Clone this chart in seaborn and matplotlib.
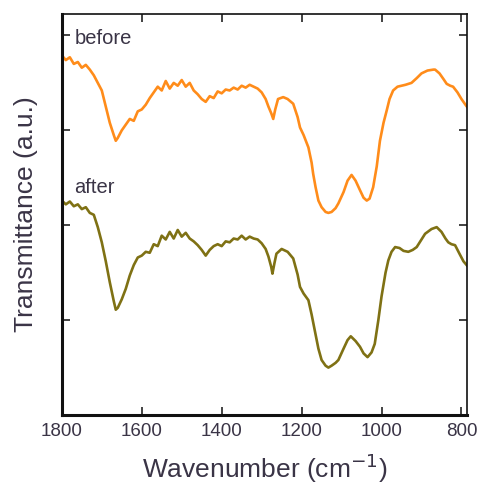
import matplotlib
matplotlib.use("Agg")
import matplotlib.pyplot as plt
import seaborn as sns
import pandas as pd

# FTIR spectra (arbitrary offset units)
wn_before = [1800, 1790, 1780, 1770, 1760, 1750, 1740, 1730, 1720, 1710, 1700, 1690, 1680, 1670, 1665,
             1660, 1650, 1640, 1630, 1620, 1610, 1600, 1590, 1580, 1570, 1560, 1550, 1540, 1530, 1520,
             1510, 1500, 1490, 1480, 1470, 1460, 1450, 1440, 1430, 1420, 1410, 1400, 1390, 1380, 1370,
             1360, 1350, 1340, 1330, 1320, 1310, 1300, 1290, 1283, 1276, 1271, 1266, 1259, 1246, 1235,
             1221, 1210, 1204, 1195, 1183, 1175, 1171, 1165, 1158, 1150, 1140, 1133, 1125, 1115, 1108,
             1095, 1085, 1075, 1065, 1054, 1045, 1037, 1030, 1021, 1012, 1004, 995, 987, 980, 971,
             960, 950, 940, 925, 912, 900, 885, 870, 866, 855, 845, 837, 828, 821, 810, 800, 790, 783]
t_before = [3.79, 3.74, 3.77, 3.70, 3.72, 3.66, 3.69, 3.64, 3.58, 3.50, 3.42, 3.25, 3.08, 2.95, 2.89,
            2.92, 3.00, 3.06, 3.12, 3.10, 3.20, 3.22, 3.27, 3.34, 3.40, 3.46, 3.42, 3.52, 3.44, 3.50,
            3.47, 3.53, 3.46, 3.50, 3.42, 3.38, 3.33, 3.30, 3.36, 3.34, 3.41, 3.39, 3.43, 3.42, 3.45,
            3.43, 3.47, 3.45, 3.48, 3.46, 3.44, 3.40, 3.33, 3.25, 3.18, 3.12, 3.22, 3.33, 3.35, 3.33,
            3.28, 3.14, 3.03, 2.95, 2.82, 2.66, 2.54, 2.40, 2.26, 2.19, 2.14, 2.13, 2.14, 2.18, 2.23,
            2.35, 2.47, 2.53, 2.47, 2.37, 2.29, 2.26, 2.28, 2.40, 2.62, 2.89, 3.08, 3.21, 3.33, 3.42,
            3.46, 3.47, 3.48, 3.50, 3.55, 3.60, 3.63, 3.64, 3.64, 3.60, 3.54, 3.49, 3.47, 3.46, 3.40,
            3.33, 3.27, 3.23]

wn_after = [1800, 1790, 1780, 1770, 1760, 1750, 1740, 1730, 1720, 1710, 1700, 1690, 1680, 1670, 1665,
            1660, 1650, 1640, 1630, 1620, 1610, 1600, 1590, 1580, 1570, 1560, 1550, 1540, 1530, 1520,
            1510, 1500, 1490, 1480, 1470, 1460, 1450, 1440, 1430, 1420, 1410, 1400, 1390, 1380, 1370,
            1360, 1350, 1340, 1330, 1320, 1310, 1300, 1290, 1283, 1276, 1273, 1268, 1263, 1250, 1235,
            1221, 1210, 1204, 1195, 1183, 1175, 1167, 1158, 1150, 1140, 1133, 1125, 1115, 1108, 1095,
            1085, 1077, 1065, 1054, 1045, 1035, 1025, 1017, 1008, 1000, 990, 983, 975, 966, 955,
            945, 933, 922, 912, 900, 891, 875, 862, 850, 840, 833, 825, 816, 805, 795, 783]
t_after = [2.26, 2.22, 2.25, 2.20, 2.22, 2.17, 2.19, 2.13, 2.11, 1.98, 1.82, 1.62, 1.40, 1.20, 1.11,
           1.13, 1.22, 1.33, 1.47, 1.58, 1.66, 1.68, 1.72, 1.71, 1.80, 1.78, 1.89, 1.85, 1.93, 1.86,
           1.95, 1.88, 1.92, 1.86, 1.83, 1.79, 1.74, 1.68, 1.74, 1.78, 1.80, 1.78, 1.83, 1.82, 1.86,
           1.85, 1.89, 1.85, 1.88, 1.86, 1.85, 1.81, 1.75, 1.67, 1.56, 1.49, 1.60, 1.70, 1.75, 1.72,
           1.65, 1.48, 1.35, 1.28, 1.21, 1.06, 0.89, 0.70, 0.58, 0.52, 0.50, 0.52, 0.55, 0.58, 0.70,
           0.79, 0.83, 0.78, 0.72, 0.65, 0.61, 0.66, 0.75, 1.00, 1.25, 1.50, 1.63, 1.72, 1.77, 1.76,
           1.73, 1.72, 1.74, 1.77, 1.85, 1.91, 1.96, 1.98, 1.93, 1.86, 1.82, 1.80, 1.79, 1.70, 1.62,
           1.56]

labels = ["before", "after"]
colors = ["#ff8c1a", "#7f7114"]

df = pd.concat([
    pd.DataFrame({"wn": wn_before, "T": t_before, "sample": "before"}),
    pd.DataFrame({"wn": wn_after, "T": t_after, "sample": "after"}),
])

sns.set_style("ticks")
plt.rcParams["font.family"] = ["Liberation Sans", "DejaVu Sans"]

fig = plt.figure(figsize=(4.83, 4.86), dpi=100)
ax = fig.add_axes([0.128, 0.146, 0.839, 0.826])
sns.lineplot(data=df, x="wn", y="T", hue="sample", palette=dict(zip(labels, colors)),
             sort=False, estimator=None, linewidth=1.9, legend=False, ax=ax)

ax.set_xlim(1800, 786)
ax.set_ylim(0, 4.23)
ax.set_xticks([1800, 1600, 1400, 1200, 1000, 800])
ax.set_yticks([1, 2, 3, 4])
ax.set_yticklabels([])
ax.tick_params(direction="in", top=True, right=True, length=6, width=1.2, labelsize=13.5,
               colors="#222", labelcolor="#3a3446")
ax.tick_params(axis="x", pad=6)
for side, lw in [("left", 2.2), ("bottom", 2.2), ("top", 1.2), ("right", 1.2)]:
    ax.spines[side].set_linewidth(lw)
    ax.spines[side].set_color("#111")

ax.set_xlabel("Wavenumber (cm$^{-1}$)", fontsize=19, color="#3a3446", labelpad=8)
ax.set_ylabel("Transmittance (a.u.)", fontsize=19, color="#3a3446", labelpad=14)

ax.text(1768, 3.97, labels[0], fontsize=14.5, color="#3a3446", va="center")
ax.text(1768, 2.40, labels[1], fontsize=14.5, color="#3a3446", va="center")

fig.savefig("out.png", dpi=100)
